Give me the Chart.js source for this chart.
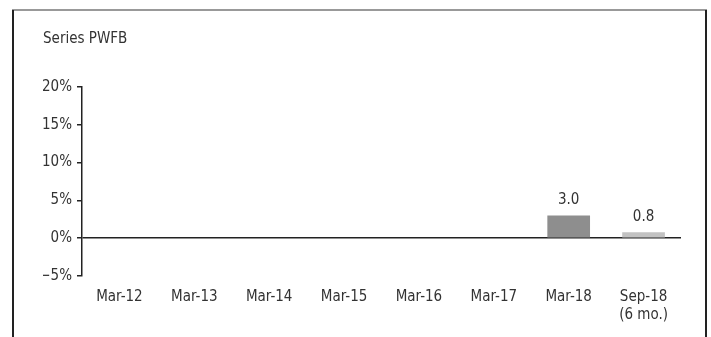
<!DOCTYPE html>
<html>
<head>
<meta charset="utf-8">
<script src="https://cdn.jsdelivr.net/npm/chart.js@4.4.1/dist/chart.umd.min.js"></script>
<style>
  html, body { margin: 0; padding: 0; background: #fff; }
  #wrap { position: relative; width: 711px; height: 337px; }
</style>
</head>
<body>
<div id="wrap"><canvas id="chart"></canvas></div>
<script>
// Chart data
const categories = ['Mar-12', 'Mar-13', 'Mar-14', 'Mar-15', 'Mar-16', 'Mar-17', 'Mar-18', ['Sep-18', '(6 mo.)']];
const values = [null, null, null, null, null, null, 3.0, 0.8];
const barColors = ['#8e8e8e', '#8e8e8e', '#8e8e8e', '#8e8e8e', '#8e8e8e', '#8e8e8e', '#8e8e8e', '#c2c2c2'];
const yTicks = [-5, 0, 5, 10, 15, 20];

const FONT = '"Liberation Sans Narrow", "DejaVu Sans Condensed", sans-serif';
const TEXT = '#333333';

// Outer frame (open at the bottom)
const framePlugin = {
  id: 'frame',
  beforeDraw(chart) {
    const ctx = chart.ctx;
    ctx.save();
    ctx.lineWidth = 2;
    ctx.strokeStyle = '#999999';
    ctx.beginPath();
    ctx.moveTo(12, 10);
    ctx.lineTo(707, 10);
    ctx.stroke();
    ctx.strokeStyle = '#222222';
    ctx.beginPath();
    ctx.moveTo(13, 10);
    ctx.lineTo(13, chart.height);
    ctx.moveTo(706, 10);
    ctx.lineTo(706, chart.height);
    ctx.stroke();
    ctx.restore();
  }
};

// Value labels above bars
const valueLabels = {
  id: 'valueLabels',
  afterDatasetsDraw(chart) {
    const ctx = chart.ctx;
    const meta = chart.getDatasetMeta(0);
    ctx.save();
    ctx.fillStyle = TEXT;
    ctx.font = '15px ' + FONT;
    ctx.textAlign = 'center';
    ctx.textBaseline = 'bottom';
    meta.data.forEach((bar, i) => {
      const v = values[i];
      if (v === null || v === undefined) return;
      ctx.fillText(v.toFixed(1), bar.x, bar.y - 8);
    });
    ctx.restore();
  }
};

new Chart(document.getElementById('chart'), {
  type: 'bar',
  data: {
    labels: categories,
    datasets: [{
      data: values,
      backgroundColor: barColors,
      borderWidth: 0,
      categoryPercentage: 1,
      barPercentage: 0.57
    }]
  },
  plugins: [framePlugin, valueLabels],
  options: {
    responsive: true,
    maintainAspectRatio: false,
    animation: false,
    layout: { padding: { left: 43, right: 30, top: 0, bottom: 0 } },
    plugins: {
      legend: { display: false },
      tooltip: { enabled: false },
      title: {
        display: true,
        text: 'Series PWFB',
        align: 'start',
        color: TEXT,
        font: { family: FONT, size: 15, weight: 'normal' },
        padding: { top: 30, bottom: 39 }
      }
    },
    scales: {
      x: {
        grid: { display: false, drawTicks: false },
        border: { display: false },
        ticks: {
          color: TEXT,
          font: { family: FONT, size: 15 },
          padding: 12,
          maxRotation: 0
        },
        afterFit(scale) { scale.height = 61; }
      },
      y: {
        min: -5,
        max: 20,
        afterBuildTicks(scale) { scale.ticks = yTicks.map(v => ({ value: v })); },
        grid: {
          drawOnChartArea: true,
          color: ctx => (ctx.tick && ctx.tick.value === 0 ? '#222222' : 'rgba(0,0,0,0)'),
          lineWidth: 1.5,
          drawTicks: true,
          tickLength: 5,
          tickColor: '#222222',
          tickWidth: 1.5
        },
        border: { display: true, color: '#222222', width: 1.5 },
        ticks: {
          color: TEXT,
          font: { family: FONT, size: 15 },
          padding: 5,
          callback: v => (v < 0 ? '\u2212' + Math.abs(v) : v) + '%'
        },
        afterFit(scale) { scale.width = 39; }
      }
    }
  }
});
</script>
</body>
</html>
